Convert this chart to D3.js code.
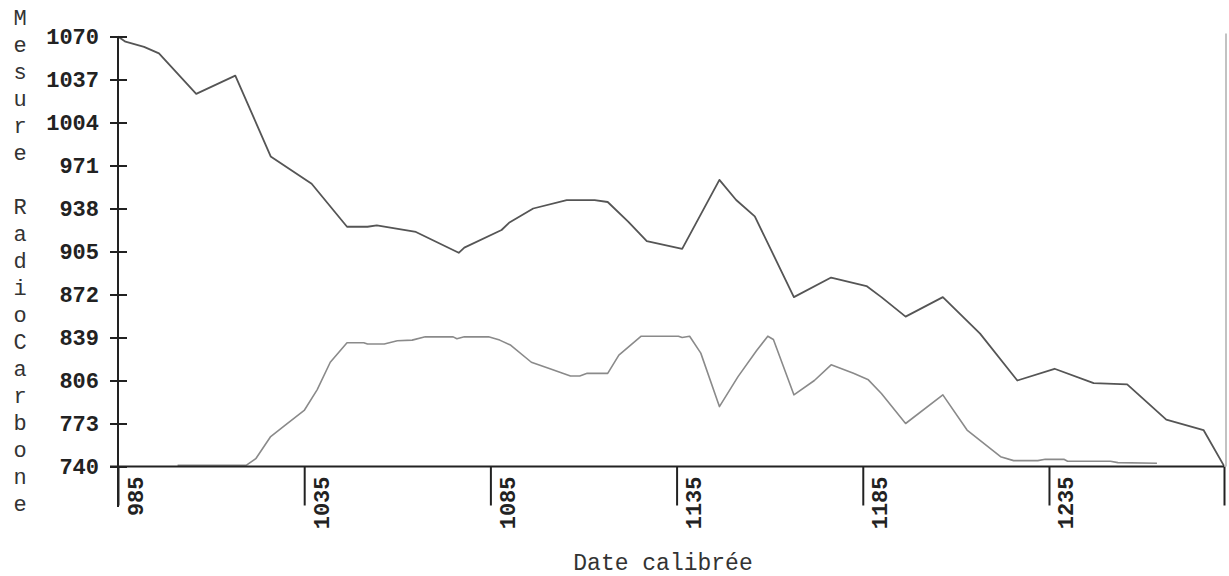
<!DOCTYPE html>
<html>
<head>
<meta charset="utf-8">
<script src="https://cdn.jsdelivr.net/npm/d3@7"></script>
<style>
  html, body { margin: 0; padding: 0; background: #fff; }
  svg { display: block; }
</style>
</head>
<body>
<svg id="chart" width="1229" height="576"></svg>
<script>
// ---- data ----
const yTicks = [740, 773, 806, 839, 872, 905, 938, 971, 1004, 1037, 1070];
const xTicks = [985, 1035, 1085, 1135, 1185, 1235];
const yTitle = "Mesure RadioCarbone";
const xTitle = "Date calibrée";

const upperYears = [985, 987, 992, 996, 1006, 1016.5, 1026, 1037, 1046.5, 1052, 1054.5, 1065, 1076.5, 1078, 1088, 1090, 1096.5, 1105.5, 1113, 1116.5, 1122, 1127, 1136.5, 1146.5, 1151, 1156, 1166.5, 1176.5, 1186, 1190, 1196.5, 1206.5, 1216.5, 1226.5, 1236.5, 1247, 1256, 1266.5, 1276.5, 1282];
const upperVals  = [1070, 1066, 1062, 1057, 1026, 1040, 978, 957, 924, 924, 925, 920, 904, 908, 921.5, 927, 938, 944.5, 944.5, 943, 928, 913, 907, 960, 944.5, 932, 870, 885, 878.5, 870, 855, 870, 842, 806, 815, 804, 803, 776, 768, 740.5];

const lowerYears = [1001, 1019.5, 1022, 1026, 1030, 1035, 1038.5, 1042, 1046.5, 1051, 1052, 1056.5, 1060, 1064, 1067.5, 1075, 1076, 1078, 1084.5, 1087.5, 1090.5, 1096, 1101, 1106.5, 1109, 1111, 1116.5, 1119.5, 1125.5, 1135.5, 1136.5, 1138.5, 1141.5, 1146.5, 1151.5, 1156.5, 1159.5, 1161, 1166.5, 1172, 1176.5, 1182.5, 1186.5, 1190, 1196.5, 1206.5, 1213, 1222, 1225.5, 1232, 1234, 1239, 1240, 1251.5, 1253.5, 1264];
const lowerVals  = [741, 741, 746, 763, 772, 783, 799, 820, 835, 835, 834, 834, 836.5, 837, 839.5, 839.5, 838, 839.5, 839.5, 837, 833, 820, 815, 809.5, 809.5, 811.5, 811.5, 825.5, 840, 840, 839, 840, 827, 786, 809, 829, 840, 837.5, 795, 806, 818, 811.5, 806.5, 796, 773, 795, 768, 747.5, 744.5, 744.5, 745.5, 745.5, 744, 744, 743, 742.5];

// ---- layout ----
const svg = d3.select("#chart");
const x = d3.scaleLinear().domain([985, 1282]).range([118, 1224]);
const y = d3.scaleLinear().domain([740, 1070]).range([466.5, 36.5]);
const mono = "'Liberation Mono', 'Courier New', monospace";

// Right-side light frame line
svg.append("line")
  .attr("x1", 1226).attr("x2", 1226)
  .attr("y1", y(1070) - 3).attr("y2", y(740))
  .attr("stroke", "#999").attr("stroke-width", 1.2);

// Curves
const line = d3.line().x(d => x(d[0])).y(d => y(d[1]));
svg.append("path")
  .datum(upperYears.map((yr, i) => [yr, upperVals[i]]))
  .attr("d", line).attr("fill", "none")
  .attr("stroke", "#555").attr("stroke-width", 1.8).attr("stroke-linejoin", "round");
svg.append("path")
  .datum(lowerYears.map((yr, i) => [yr, lowerVals[i]]))
  .attr("d", line).attr("fill", "none")
  .attr("stroke", "#8a8a8a").attr("stroke-width", 1.6).attr("stroke-linejoin", "round");

// Y axis
const yAxis = svg.append("g")
  .attr("transform", `translate(${x(985)},0)`)
  .call(d3.axisLeft(y).tickValues(yTicks).tickFormat(d3.format("d"))
    .tickSize(8).tickPadding(12).tickSizeOuter(0));
yAxis.select(".domain").remove();
yAxis.selectAll(".tick line").attr("x1", -8).attr("x2", 9)
  .attr("stroke", "#222").attr("stroke-width", 2);
yAxis.selectAll(".tick text")
  .attr("font-family", mono).attr("font-weight", "bold")
  .attr("font-size", 22).attr("fill", "#222").attr("x", -19);
yAxis.append("line")
  .attr("x1", 0).attr("x2", 0).attr("y1", y(1070)).attr("y2", 507)
  .attr("stroke", "#222").attr("stroke-width", 2);

// X axis
const xAxis = svg.append("g")
  .attr("transform", `translate(0,${y(740)})`)
  .call(d3.axisBottom(x).tickValues(xTicks.concat([1282])).tickSize(39).tickSizeOuter(0)
    .tickFormat(d => xTicks.includes(d) ? String(d) : ""));
xAxis.select(".domain").remove();
xAxis.append("line")
  .attr("x1", 110).attr("x2", x(1282)).attr("y1", 0).attr("y2", 0)
  .attr("stroke", "#222").attr("stroke-width", 2);
xAxis.selectAll(".tick line").attr("stroke", "#222").attr("stroke-width", 2);
xAxis.selectAll(".tick text")
  .attr("font-family", mono).attr("font-weight", "bold")
  .attr("font-size", 22).attr("fill", "#222")
  .attr("text-anchor", "end")
  .attr("dy", null)
  .attr("transform", "translate(24,10) rotate(-90)")
  .attr("x", 0).attr("y", 0);

// Y title: stacked letters
svg.append("g").selectAll("text")
  .data(yTitle.split(""))
  .join("text")
  .attr("x", 20)
  .attr("y", (d, i) => 17 + i * 27)
  .attr("dy", "0.35em")
  .attr("text-anchor", "middle")
  .attr("font-family", mono).attr("font-size", 22).attr("fill", "#333")
  .text(d => d);

// X title
svg.append("text")
  .attr("x", 663).attr("y", 570)
  .attr("text-anchor", "middle")
  .attr("font-family", mono).attr("font-size", 23).attr("fill", "#333")
  .text(xTitle);
</script>
</body>
</html>
